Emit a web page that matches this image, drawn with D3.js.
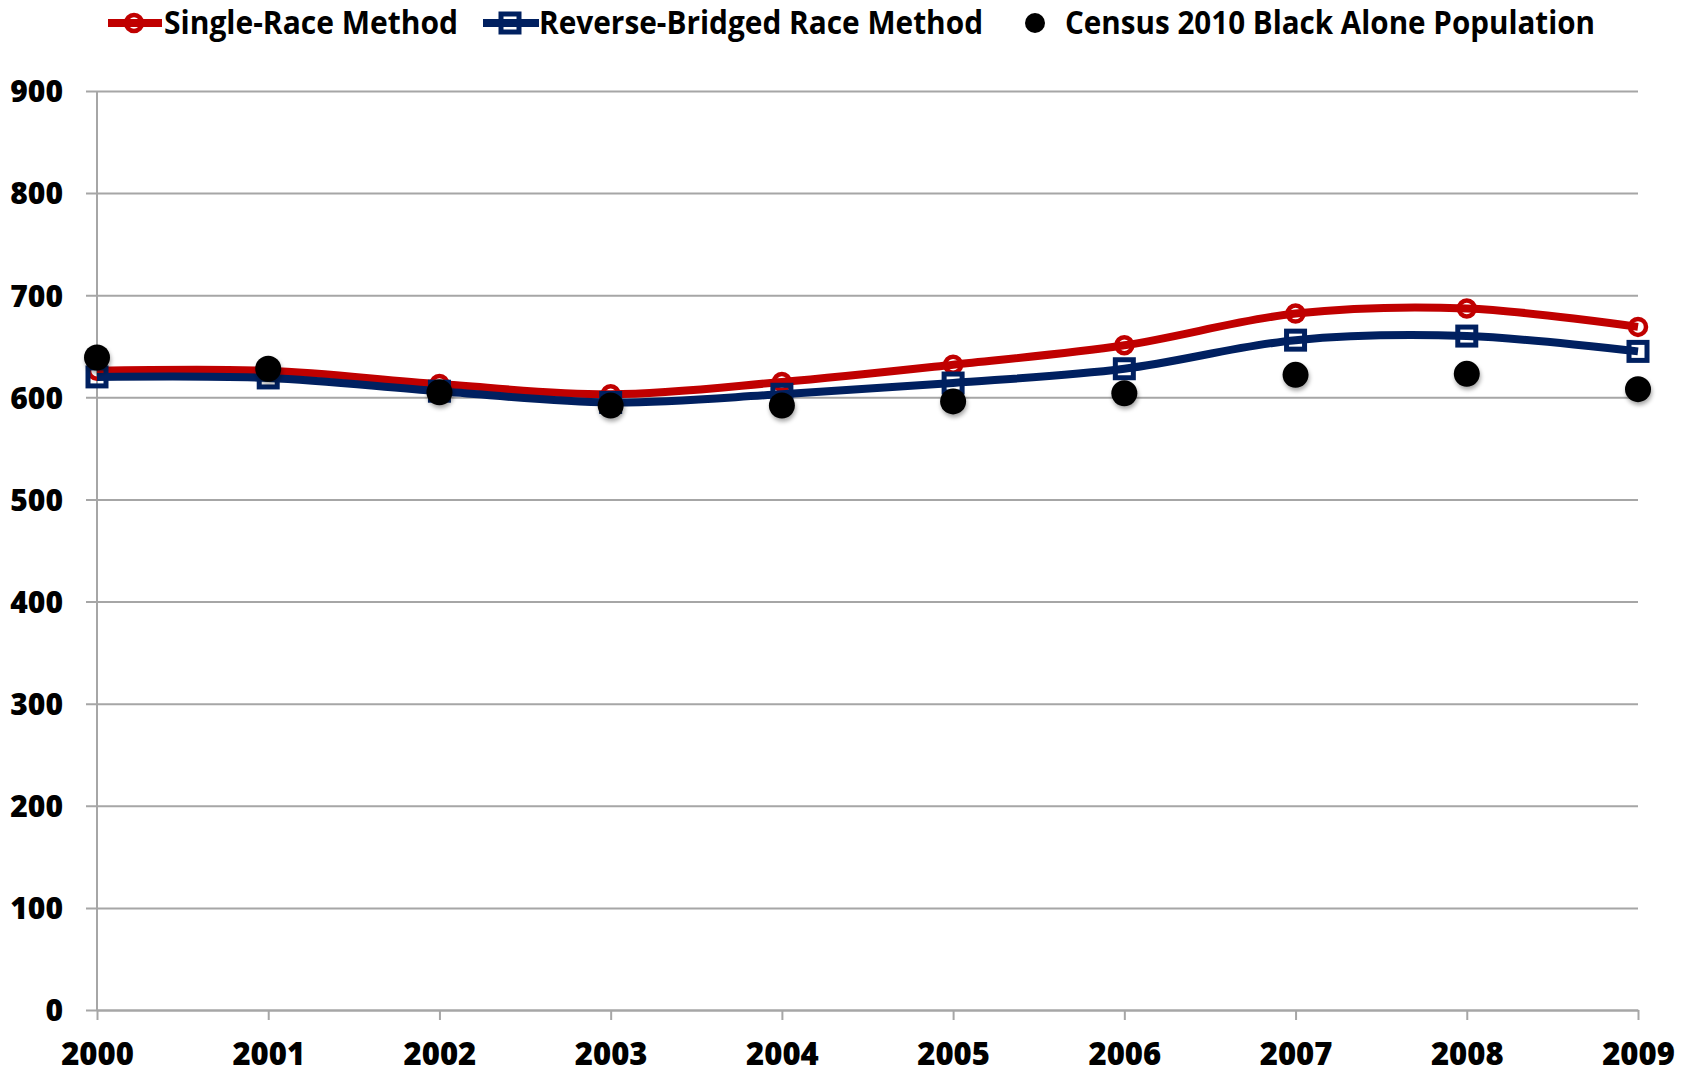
<!DOCTYPE html>
<html>
<head>
<meta charset="utf-8">
<script src="https://cdn.jsdelivr.net/npm/d3@7"></script>
<style>
  html, body { margin: 0; padding: 0; background: #fff; }
  svg { display: block; }
  text { font-family: "Open Sans", "Noto Sans", sans-serif; font-weight: 700; fill: #000; }
</style>
</head>
<body>
<svg id="chart" width="1690" height="1073"></svg>
<script>
// Population estimates (thousands), 2000-2009
const years = [2000, 2001, 2002, 2003, 2004, 2005, 2006, 2007, 2008, 2009];
const singleRace = [626, 626, 613, 603, 615, 632, 651, 682, 687, 669];
const reverseBridged = [620, 619, 606, 595, 603, 614, 628, 656, 660, 645];
const census2010 = [639, 628, 605, 592, 592, 596, 604, 622, 623, 608];
const yTicks = [0, 100, 200, 300, 400, 500, 600, 700, 800, 900];
const seriesNames = ["Single-Race Method", "Reverse-Bridged Race Method", "Census 2010 Black Alone Population"];

const RED = "#C00000", BLUE = "#002060", GRID = "#a6a6a6";
const LINE_W = 8, CIRCLE_R = 8, CIRCLE_W = 4.5, SQUARE = 18, SQUARE_W = 5, DOT_R = 13;

const svg = d3.select("#chart");

const x = d3.scaleLinear().domain([2000, 2009]).range([97, 1638]);
const y = d3.scaleLinear().domain([0, 900]).range([1010, 91]);

// drop shadow for the census dots
const defs = svg.append("defs");
const f = defs.append("filter").attr("id", "dotShadow")
  .attr("x", "-50%").attr("y", "-50%").attr("width", "200%").attr("height", "200%");
f.append("feDropShadow").attr("dx", 1).attr("dy", 3).attr("stdDeviation", 2)
  .attr("flood-color", "#000").attr("flood-opacity", 0.35);

// horizontal gridlines (extend slightly left of the axis as tick marks)
const grid = svg.append("g").attr("transform", "translate(86,0)")
  .call(d3.axisLeft(y).tickValues(yTicks).tickSize(-(1638 - 86)).tickFormat(""));
grid.select(".domain").remove();
grid.selectAll("line").attr("stroke", GRID).attr("stroke-width", 2);

// y tick labels
const yLab = svg.append("g").attr("transform", "translate(97,0)")
  .call(d3.axisLeft(y).tickValues(yTicks).tickSize(0).tickPadding(34));
yLab.select(".domain").remove();
yLab.selectAll("text").attr("font-size", 30).attr("dy", "0.36em")
  .style("font-family", "'Open Sans', sans-serif").style("font-weight", 800);

// vertical axis line
svg.append("line").attr("x1", x(2000)).attr("x2", x(2000))
  .attr("y1", y(900)).attr("y2", y(0)).attr("stroke", GRID).attr("stroke-width", 2);

// x axis
const xAx = svg.append("g").attr("transform", `translate(0,${y(0)})`)
  .call(d3.axisBottom(x).tickValues(years).tickFormat(d3.format("d")).tickSize(10).tickSizeOuter(0));
xAx.select(".domain").attr("stroke", GRID).attr("stroke-width", 2);
xAx.selectAll("line").attr("stroke", GRID).attr("stroke-width", 2);
xAx.selectAll("text").attr("font-size", 31).attr("y", 44).attr("dy", "0.36em")
  .style("font-family", "'Open Sans', sans-serif").style("font-weight", 800);

const line = d3.line().x((d, i) => x(years[i])).y(d => y(d)).curve(d3.curveCardinal.tension(0));

// single-race series
svg.append("path").datum(singleRace).attr("d", line)
  .attr("fill", "none").attr("stroke", RED).attr("stroke-width", LINE_W).attr("stroke-linejoin", "round");
svg.append("g").selectAll("circle").data(singleRace).join("circle")
  .attr("cx", (d, i) => x(years[i])).attr("cy", d => y(d)).attr("r", CIRCLE_R)
  .attr("fill", "none").attr("stroke", RED).attr("stroke-width", CIRCLE_W);

// reverse-bridged series
svg.append("path").datum(reverseBridged).attr("d", line)
  .attr("fill", "none").attr("stroke", BLUE).attr("stroke-width", LINE_W).attr("stroke-linejoin", "round");
svg.append("g").selectAll("rect").data(reverseBridged).join("rect")
  .attr("x", (d, i) => x(years[i]) - SQUARE / 2).attr("y", d => y(d) - SQUARE / 2)
  .attr("width", SQUARE).attr("height", SQUARE)
  .attr("fill", "none").attr("stroke", BLUE).attr("stroke-width", SQUARE_W);

// census dots
svg.append("g").selectAll("circle").data(census2010).join("circle")
  .attr("cx", (d, i) => x(years[i])).attr("cy", d => y(d)).attr("r", DOT_R)
  .attr("fill", "#000").attr("filter", "url(#dotShadow)");

// legend
const lg = svg.append("g").style("font-weight", 800);
const LY = 23;
lg.append("line").attr("x1", 108).attr("x2", 162).attr("y1", LY).attr("y2", LY)
  .attr("stroke", RED).attr("stroke-width", LINE_W);
lg.append("circle").attr("cx", 134).attr("cy", LY).attr("r", CIRCLE_R)
  .attr("fill", "none").attr("stroke", RED).attr("stroke-width", CIRCLE_W);
lg.append("text").attr("x", 164).attr("y", 34).attr("font-size", 32)
  .attr("textLength", 294).attr("lengthAdjust", "spacingAndGlyphs").text(seriesNames[0]);

lg.append("line").attr("x1", 483).attr("x2", 539).attr("y1", LY).attr("y2", LY)
  .attr("stroke", BLUE).attr("stroke-width", LINE_W);
lg.append("rect").attr("x", 510 - SQUARE / 2).attr("y", LY - SQUARE / 2).attr("width", SQUARE).attr("height", SQUARE)
  .attr("fill", "none").attr("stroke", BLUE).attr("stroke-width", SQUARE_W);
lg.append("text").attr("x", 539).attr("y", 34).attr("font-size", 32)
  .attr("textLength", 444).attr("lengthAdjust", "spacingAndGlyphs").text(seriesNames[1]);

lg.append("circle").attr("cx", 1035).attr("cy", LY).attr("r", 10).attr("fill", "#000");
lg.append("text").attr("x", 1065).attr("y", 34).attr("font-size", 32)
  .attr("textLength", 530).attr("lengthAdjust", "spacingAndGlyphs").text(seriesNames[2]);
</script>
</body>
</html>
